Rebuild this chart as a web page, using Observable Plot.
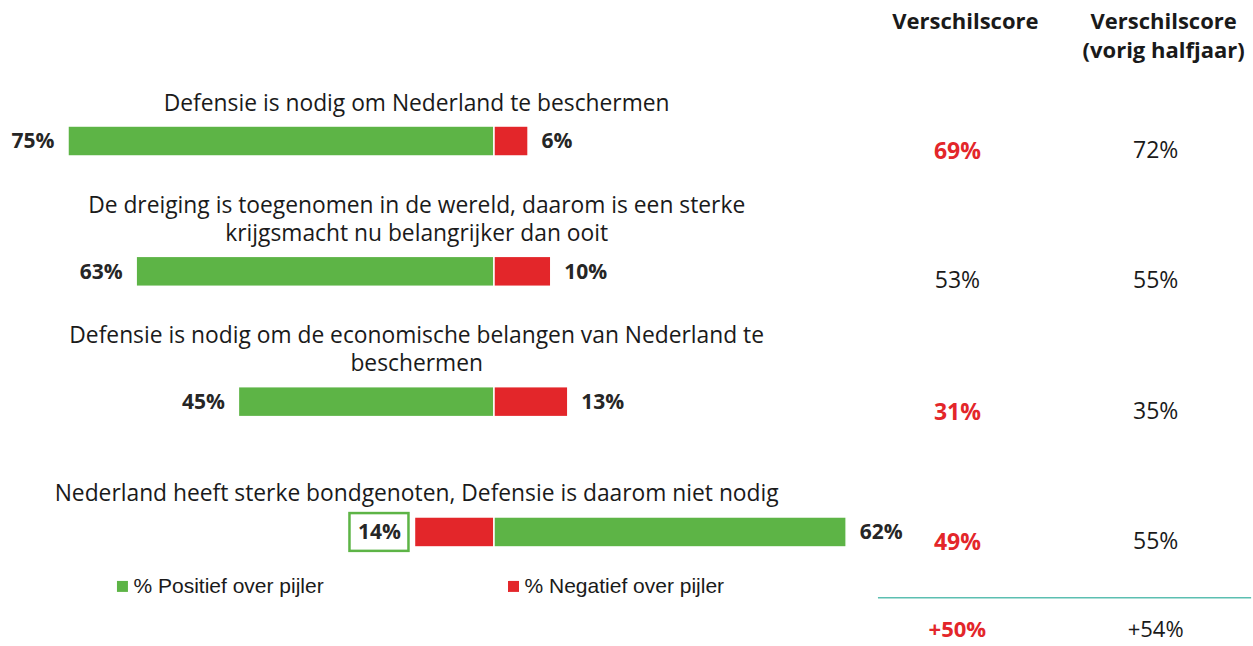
<!DOCTYPE html>
<html><head><meta charset="utf-8">
<script src="https://cdn.jsdelivr.net/npm/d3@7"></script>
<script src="https://cdn.jsdelivr.net/npm/@observablehq/plot@0.6"></script>
<style>
html,body{margin:0;padding:0;background:#fff;}
#chart svg{display:block;}
</style></head><body><div id="chart"></div>
<script>
// ---------- data ----------
const statements = [
  "Defensie is nodig om Nederland te beschermen",
  "De dreiging is toegenomen in de wereld, daarom is een sterke\nkrijgsmacht nu belangrijker dan ooit",
  "Defensie is nodig om de economische belangen van Nederland te\nbeschermen",
  "Nederland heeft sterke bondgenoten, Defensie is daarom niet nodig"
];
const positive = [75, 63, 45, 62];
const negative = [6, 10, 13, 14];
const negativeOnLeft = [false, false, false, true];
const boxedLeftLabel = [false, false, false, true];
const score = [69, 53, 31, 49];
const scoreHighlighted = [true, false, true, true];
const scorePrevious = [72, 55, 35, 55];
const totalScore = ["+50%"];
const totalScoreHighlighted = true;
const totalPrevious = ["+54%"];
const columnHeaders = ["Verschilscore", "Verschilscore\n(vorig halfjaar)"];
const legendLabels = ["% Positief over pijler", "% Negatief over pijler"];

// ---------- layout ----------
const GREEN = "#5db446", RED = "#e3262a", TEAL = "#5cbfb1", INK = "#1a1a1a", LABEL = "#262626";
const W = 1253, H = 646;
const xDomain = [-86.97, 133.63];   // percentage points, 0 = divider
const yDomain = [-1.082, 3.875];    // row index
const labelX = -13.7, scoreX = 81.5, prevX = 116.4;
const legendX = [-65.5, 3.35];
const HALF = 0.115, LEGEND_Y = 3.414, RULE_Y = 3.5, TOTAL_Y = 3.75, HEADER_Y = -1.03;
const FONT = "'Open Sans', sans-serif";

const rows = statements.map((s, i) => ({
  i, statement: s, pos: positive[i], neg: negative[i], negLeft: negativeOnLeft[i],
  boxed: boxedLeftLabel[i], score: score[i], hl: scoreHighlighted[i], prev: scorePrevious[i]
}));
const segments = rows.flatMap(r => r.negLeft
  ? [{i: r.i, kind: "neg", x1: -r.neg, x2: 0}, {i: r.i, kind: "pos", x1: 0, x2: r.pos}]
  : [{i: r.i, kind: "pos", x1: -r.pos, x2: 0}, {i: r.i, kind: "neg", x1: 0, x2: r.neg}]);
const leftLabels = rows.map(r => ({i: r.i, x: r.negLeft ? -r.neg : -r.pos, v: r.negLeft ? r.neg : r.pos, boxed: r.boxed}));
const rightLabels = rows.map(r => ({i: r.i, x: r.negLeft ? r.pos : r.neg, v: r.negLeft ? r.pos : r.neg}));
const legend = legendLabels.map((t, j) => ({t, x: legendX[j], c: j === 0 ? GREEN : RED}));
const headers = columnHeaders.map((t, j) => ({t, x: j === 0 ? scoreX : prevX}));

const chart = Plot.plot({
  width: W, height: H,
  marginTop: 0, marginRight: 0, marginBottom: 0, marginLeft: 0,
  x: {domain: xDomain, range: [0, W], axis: null},
  y: {domain: yDomain, range: [0, H], axis: null},
  style: {fontFamily: FONT, background: "#fff", color: INK},
  marks: [
    // header
    Plot.text(headers, {x: "x", y: HEADER_Y, text: "t", dx: 8, lineAnchor: "top", fontSize: 22, fontWeight: "bold", lineHeight: 1.36, fill: INK}),
    // statement labels
    Plot.text(rows, {x: labelX, y: "i", text: "statement", lineAnchor: "bottom", dy: -31, fontSize: 22.8, lineHeight: 1.23, fill: INK}),
    // bars
    Plot.rect(segments, {x1: "x1", x2: "x2", y1: d => d.i - HALF, y2: d => d.i + HALF,
      fill: d => d.kind === "pos" ? GREEN : RED, stroke: "white", strokeWidth: 1.5}),
    // boxed left label
    Plot.rect(leftLabels.filter(d => d.boxed), {x1: "x", x2: "x", y1: d => d.i - 0.145, y2: d => d.i + 0.145,
      insetLeft: -65, insetRight: 6, fill: "white", stroke: GREEN, strokeWidth: 2.5}),
    // value labels
    Plot.text(leftLabels, {x: "x", y: "i", text: d => d.v + "%", textAnchor: "end", dx: -14, fontSize: 21, fontWeight: "bold", fill: LABEL}),
    Plot.text(rightLabels, {x: "x", y: "i", text: d => d.v + "%", textAnchor: "start", dx: 13, fontSize: 21, fontWeight: "bold", fill: LABEL}),
    // score columns
    Plot.text(rows.filter(d => d.hl), {x: scoreX, y: "i", text: d => d.score + "%", dy: 10, fontSize: 23, fontWeight: "bold", fill: RED}),
    Plot.text(rows.filter(d => !d.hl), {x: scoreX, y: "i", text: d => d.score + "%", dy: 9, fontSize: 23, fill: INK}),
    Plot.text(rows, {x: prevX, y: "i", text: d => d.prev + "%", dy: 9, fontSize: 23, fill: INK}),
    // legend
    Plot.dot(legend, {x: "x", y: LEGEND_Y, symbol: "square", r: 6.2, fill: "c", stroke: null}),
    Plot.text(legend, {x: "x", y: LEGEND_Y, text: "t", textAnchor: "start", dx: 11, fontSize: 21, fontFamily: "'Liberation Sans', Arial, sans-serif", fill: INK}),
    // separator + totals
    Plot.ruleY([RULE_Y], {x1: 67.6, x2: 133.3, stroke: TEAL, strokeWidth: 1.5}),
    Plot.text(totalScore, {x: scoreX, y: TOTAL_Y, text: d => d, fontSize: 22, fontWeight: totalScoreHighlighted ? "bold" : "normal", fill: totalScoreHighlighted ? RED : INK}),
    Plot.text(totalPrevious, {x: prevX, y: TOTAL_Y, text: d => d, fontSize: 22, fill: INK})
  ]
});
document.getElementById("chart").appendChild(chart);
</script>
</body></html>
